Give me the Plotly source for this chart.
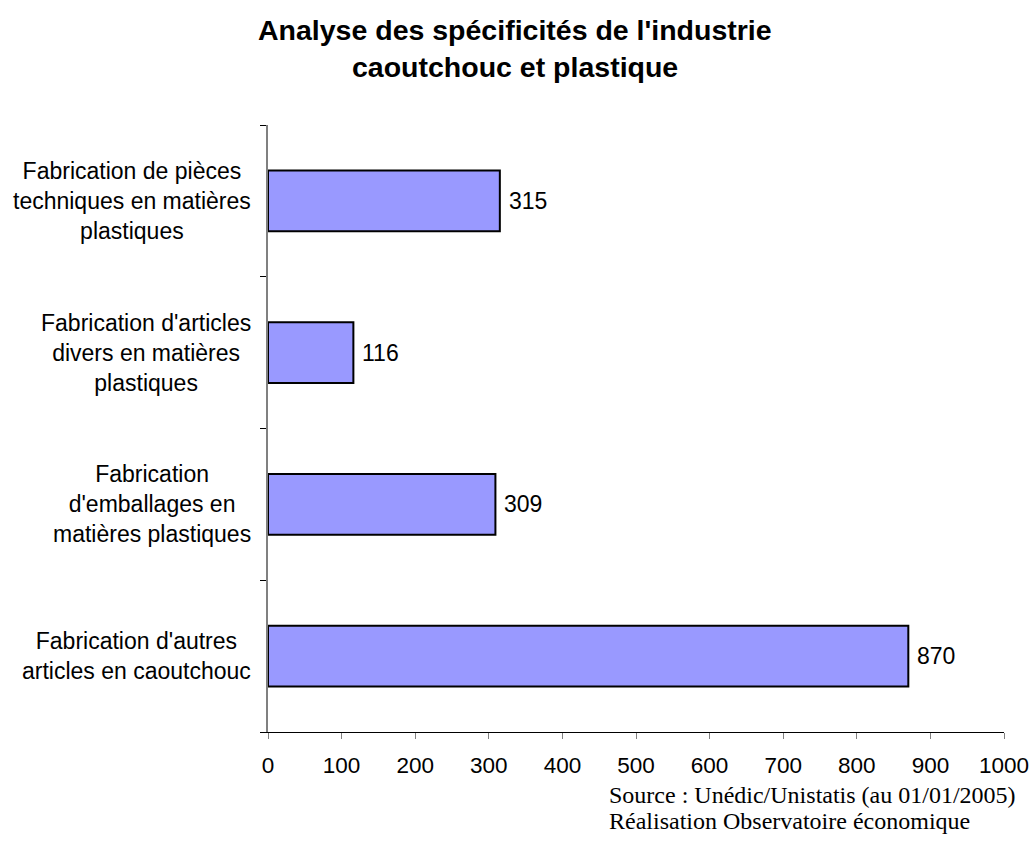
import plotly.graph_objects as go

categories = [
    "Fabrication de pièces<br>techniques en matières<br>plastiques",
    "Fabrication d'articles<br>divers en matières<br>plastiques",
    "Fabrication<br>d'emballages en<br>matières plastiques",
    "Fabrication d'autres<br>articles en caoutchouc",
]
values = [315, 116, 309, 870]
x_ticks = [0, 100, 200, 300, 400, 500, 600, 700, 800, 900, 1000]
title_lines = ["Analyse des spécificités de l'industrie", "caoutchouc et plastique"]
source_lines = ["Source : Unédic/Unistatis (au 01/01/2005)", "Réalisation Observatoire économique"]

SANS = "Liberation Sans, Arial, sans-serif"
SERIF = "Liberation Serif, Times New Roman, serif"

PLOT_LEFT, PLOT_RIGHT = 268, 1004
PLOT_TOP, PLOT_BOTTOM = 125, 732
W, HGT = 1030, 856
PW = PLOT_RIGHT - PLOT_LEFT
PH = PLOT_BOTTOM - PLOT_TOP

def xpaper(px):
    return (px - PLOT_LEFT) / PW

def ypaper(py):
    return (PLOT_BOTTOM - py) / PH

cat_ids = list(range(len(categories)))

fig = go.Figure()
fig.add_trace(go.Bar(
    x=values, y=cat_ids, orientation="h", width=0.4,
    marker=dict(color="#9999FF", line=dict(color="black", width=2)),
    hoverinfo="skip",
))

annotations = []
for i, (c, v) in enumerate(zip(categories, values)):
    annotations.append(dict(
        x=0, xref="paper", y=i, yref="y", text=c, showarrow=False,
        xanchor="right", yanchor="middle", align="center", xshift=-15,
        font=dict(family=SANS, size=23, color="black"),
    ))
    annotations.append(dict(
        x=v, xref="x", y=i, yref="y", text=str(v), showarrow=False,
        xanchor="left", yanchor="middle", xshift=7,
        font=dict(family=SANS, size=23, color="black"),
    ))

title_y = [30, 67]
for line, py in zip(title_lines, title_y):
    annotations.append(dict(
        x=xpaper(515), xref="paper", y=ypaper(py), yref="paper",
        text="<b>%s</b>" % line, showarrow=False,
        xanchor="center", yanchor="middle",
        font=dict(family=SANS, size=28.5, color="black"),
    ))

src_y = [795, 821]
for line, py in zip(source_lines, src_y):
    annotations.append(dict(
        x=xpaper(607), xref="paper", y=ypaper(py), yref="paper",
        text=line, showarrow=False,
        xanchor="left", yanchor="middle",
        font=dict(family=SERIF, size=24, color="black"),
    ))

fig.update_layout(
    width=W, height=HGT,
    margin=dict(l=PLOT_LEFT, r=W - PLOT_RIGHT, t=PLOT_TOP, b=HGT - PLOT_BOTTOM,
                pad=0, autoexpand=False),
    paper_bgcolor="white", plot_bgcolor="white",
    showlegend=False,
    annotations=annotations,
    xaxis=dict(
        range=[0, 1000], tickvals=x_ticks, ticktext=[str(t) for t in x_ticks],
        automargin=False,
        showgrid=False, zeroline=False, showline=True, linecolor="black", linewidth=1,
        ticks="outside", ticklen=6, tickcolor="#808080", tickwidth=1,
        ticklabelstandoff=7, ticklabeloverflow="allow",
        tickfont=dict(family=SANS, size=22.5, color="black"),
    ),
    yaxis=dict(
        type="linear", range=[len(categories) - 0.5, -0.5],
        automargin=False,
        tickvals=[i - 0.5 for i in range(len(categories) + 1)], showticklabels=False,
        showgrid=False, zeroline=False, showline=True, linecolor="#808080", linewidth=2,
        ticks="outside", ticklen=6, tickcolor="black", tickwidth=1,
    ),
)

fig.write_html(
    "out.html",
    config={"displayModeBar": False},
    post_script="document.body.style.margin='0';document.body.style.overflow='hidden';",
)
